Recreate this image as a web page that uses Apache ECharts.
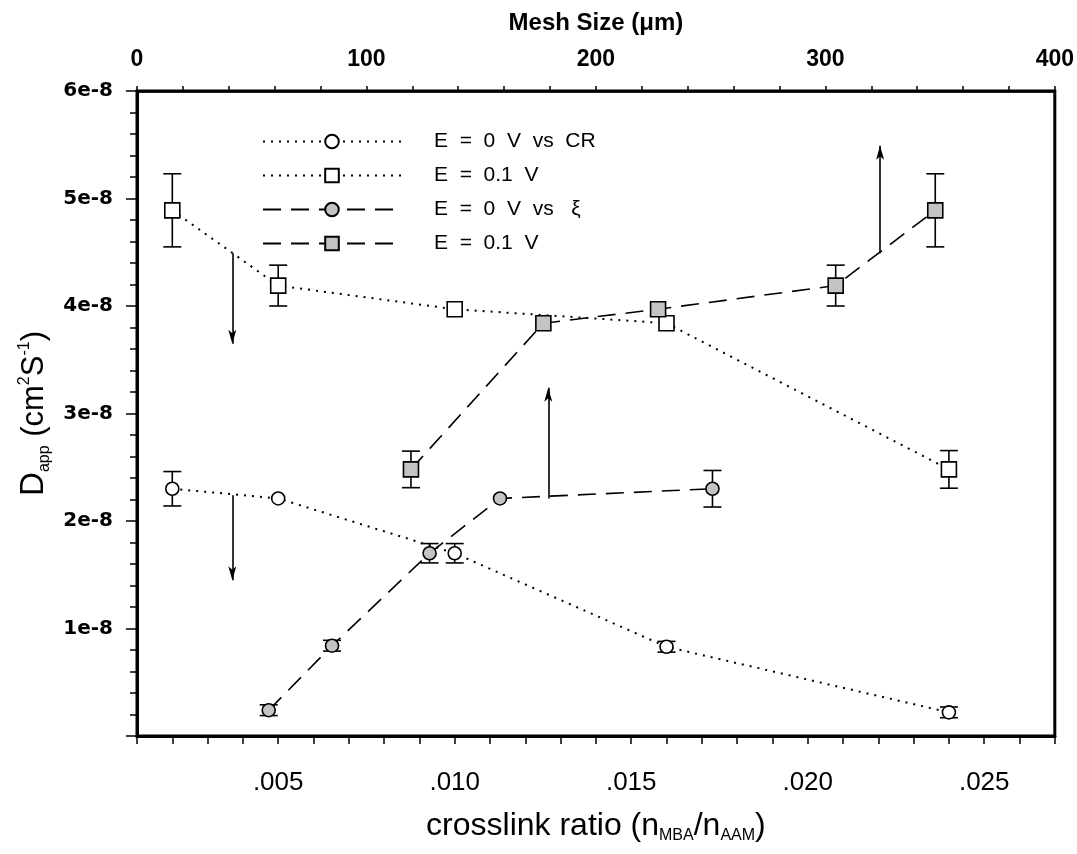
<!DOCTYPE html>
<html>
<head>
<meta charset="utf-8">
<script src="https://cdn.jsdelivr.net/npm/echarts@6/dist/echarts.min.js"></script>
<style>
html,body{margin:0;padding:0;background:#fff;}
#chart{width:1077px;height:854px;}
</style>
</head>
<body>
<div id="chart"></div>
<script>
// ---- data (D_app values in units of 1e-8 cm^2 s^-1) ----
const crosslinkRatio = [0.002, 0.005, 0.010, 0.016, 0.024];
const dApp0V_CR  = [2.30, 2.21, 1.70, 0.83, 0.22];
const err0V_CR   = [0.16, 0, 0.09, 0.05, 0.05];
const dApp01V_CR = [4.89, 4.19, 3.97, 3.84, 2.48];
const err01V_CR  = [0.34, 0.19, 0, 0, 0.175];

const meshSize0V  = [57.4, 85.0, 127.5, 158.2, 250.8];
const dApp0V_xi   = [0.24, 0.84, 1.70, 2.21, 2.30];
const err0V_xi    = [0.05, 0.05, 0.09, 0, 0.17];
const meshSize01V = [119.4, 177.1, 227.1, 304.5, 347.9];
const dApp01V_xi  = [2.48, 3.84, 3.97, 4.19, 4.89];
const err01V_xi   = [0.17, 0, 0, 0.19, 0.34];

// annotation arrows: [crosslink ratio, from D_app, to D_app]
const arrows = [
  [0.0037, 4.49, 3.65],
  [0.0037, 2.24, 1.45],
  [0.01265, 2.21, 3.24],
  [0.02205, 4.49, 5.49]
];

const bottomTickValues = [0.005, 0.010, 0.015, 0.020, 0.025];
const bottomTickLabels = ['.005', '.010', '.015', '.020', '.025'];
const topTickValues = [0, 100, 200, 300, 400];
const yTickValues = [1, 2, 3, 4, 5, 6];
const yTickLabels = ['1e-8', '2e-8', '3e-8', '4e-8', '5e-8', '6e-8'];

const seriesNames = ['E0CR', 'E01CR', 'E0XI', 'E01XI'];
const legendLabels = ['E  =  0  V  vs  CR', 'E  =  0.1  V', 'E  =  0  V  vs   \u03BE', 'E  =  0.1  V'];

// ---- helpers ----
function zip(xs, ys) { return xs.map((x, i) => [x, ys[i]]); }
function zip3(xs, ys, es) { return xs.map((x, i) => [x, ys[i], es[i]]).filter(d => d[2] > 0); }
function lookup(vals, labels, v) {
  for (let i = 0; i < vals.length; i++) if (Math.abs(vals[i] - v) < 1e-9) return labels[i];
  return '';
}

const SANS = "'Liberation Sans', Arial, sans-serif";

function errorBarSeries(xAxisIndex, data) {
  return {
    type: 'custom',
    xAxisIndex: xAxisIndex,
    yAxisIndex: 0,
    z: 1,
    silent: true,
    data: data,
    encode: { x: 0, y: 1 },
    renderItem: function (params, api) {
      const x = api.value(0), y = api.value(1), e = api.value(2);
      const t = api.coord([x, y + e]);
      const b = api.coord([x, y - e]);
      const w = 9;
      const st = { stroke: '#000', lineWidth: 1.6 };
      return {
        type: 'group',
        children: [
          { type: 'line', shape: { x1: t[0], y1: t[1], x2: b[0], y2: b[1] }, style: st },
          { type: 'line', shape: { x1: t[0] - w, y1: t[1], x2: t[0] + w, y2: t[1] }, style: st },
          { type: 'line', shape: { x1: b[0] - w, y1: b[1], x2: b[0] + w, y2: b[1] }, style: st }
        ]
      };
    }
  };
}

const dotted = { color: '#000', width: 2, type: [2, 6] };
const dashed = { color: '#000', width: 1.6, type: [18, 10] };
const openMarker = { color: '#fff', borderColor: '#000', borderWidth: 1.6 };
const greyMarker = { color: '#c4c4c4', borderColor: '#000', borderWidth: 1.6 };

const chart = echarts.init(document.getElementById('chart'), null, { renderer: 'canvas' });

const option = {
  animation: false,
  backgroundColor: '#fff',
  grid: {
    left: 137, right: 22, top: 91, bottom: 118,
    show: true, borderColor: '#000', borderWidth: 3, backgroundColor: 'transparent'
  },
  legend: {
    orient: 'vertical',
    left: 262, top: 131, padding: 0,
    itemWidth: 138, itemHeight: 17, itemGap: 13,
    selectedMode: false,
    data: seriesNames,
    formatter: function (name) { return legendLabels[seriesNames.indexOf(name)]; },
    textStyle: { fontFamily: SANS, fontSize: 21, color: '#000', padding: [0, 0, 0, 28] }
  },
  xAxis: [
    {
      type: 'value', position: 'bottom',
      min: 0.001, max: 0.027, interval: 0.001,
      name: '{t|crosslink ratio (n}{s|MBA}{t|/n}{s|AAM}{t|)}',
      nameLocation: 'middle', nameGap: 72,
      nameTextStyle: {
        rich: {
          t: { fontFamily: SANS, fontSize: 32, color: '#000' },
          s: { fontFamily: SANS, fontSize: 16, color: '#000', padding: [20, 0, 0, 0] }
        }
      },
      axisLine: { show: true, onZero: false, lineStyle: { color: '#000', width: 3 } },
      axisTick: { show: true, inside: false, length: 8, lineStyle: { color: '#000', width: 1.5 } },
      axisLabel: {
        margin: 34, color: '#000', fontFamily: SANS, fontSize: 26,
        formatter: function (v) { return lookup(bottomTickValues, bottomTickLabels, v); }
      },
      splitLine: { show: false }
    },
    {
      type: 'value', position: 'top',
      min: 0, max: 400, interval: 20,
      name: 'Mesh Size (\u03BCm)',
      nameLocation: 'middle', nameGap: 56,
      nameTextStyle: { fontFamily: SANS, fontWeight: 'bold', fontSize: 24, color: '#000' },
      axisLine: { show: true, onZero: false, lineStyle: { color: '#000', width: 2.5 } },
      axisTick: { show: true, inside: false, length: 5, lineStyle: { color: '#000', width: 1.5 } },
      axisLabel: {
        margin: 20, color: '#000', fontFamily: SANS, fontWeight: 'bold', fontSize: 23,
        formatter: function (v) { return topTickValues.indexOf(Math.round(v)) >= 0 && Math.abs(v - Math.round(v)) < 1e-6 ? String(Math.round(v)) : ''; }
      },
      splitLine: { show: false }
    }
  ],
  yAxis: [
    {
      type: 'value', position: 'left',
      min: 0, max: 6, interval: 1,
      name: '{d|D}{s|app}{t| (cm}{p|2}{t|S}{p|-1}{t|)}',
      nameLocation: 'middle', nameGap: 66, nameRotate: 90,
      nameTextStyle: {
        rich: {
          d: { fontFamily: SANS, fontSize: 33, color: '#000' },
          t: { fontFamily: SANS, fontSize: 31, color: '#000' },
          s: { fontFamily: SANS, fontSize: 16, color: '#000', padding: [20, 0, 0, 0] },
          p: { fontFamily: SANS, fontSize: 16, color: '#000', padding: [0, 0, 20, 0] }
        }
      },
      axisLine: { show: true, onZero: false, lineStyle: { color: '#000', width: 3 } },
      axisTick: { show: true, inside: false, length: 11, lineStyle: { color: '#000', width: 1.5 } },
      axisLabel: {
        margin: 24, color: '#000', fontFamily: "'DejaVu Sans', sans-serif", fontWeight: 'bold', fontSize: 20,
        formatter: function (v) { return lookup(yTickValues, yTickLabels, v); }
      },
      splitLine: { show: false }
    },
    {
      type: 'value', position: 'left',
      min: 0, max: 6, interval: 0.2,
      axisLine: { show: false },
      axisTick: { show: true, inside: false, length: 7, lineStyle: { color: '#000', width: 1.5 } },
      axisLabel: { show: false },
      splitLine: { show: false }
    }
  ],
  series: [
    errorBarSeries(0, zip3(crosslinkRatio, dApp0V_CR, err0V_CR)),
    errorBarSeries(0, zip3(crosslinkRatio, dApp01V_CR, err01V_CR)),
    errorBarSeries(1, zip3(meshSize0V, dApp0V_xi, err0V_xi)),
    errorBarSeries(1, zip3(meshSize01V, dApp01V_xi, err01V_xi)),
    {
      name: seriesNames[0], type: 'line', xAxisIndex: 0, yAxisIndex: 0, z: 3,
      data: zip(crosslinkRatio, dApp0V_CR),
      symbol: 'circle', symbolSize: 13, showAllSymbol: true,
      lineStyle: dotted, itemStyle: openMarker,
      emphasis: { disabled: true },
      markLine: {
        silent: true, symbol: ['none', 'arrow'], symbolSize: [6, 14],
        label: { show: false },
        lineStyle: { color: '#000', width: 1.6, type: 'solid' },
        emphasis: { disabled: true },
        data: arrows.map(a => [{ coord: [a[0], a[1]] }, { coord: [a[0], a[2]] }])
      }
    },
    {
      name: seriesNames[1], type: 'line', xAxisIndex: 0, yAxisIndex: 0, z: 3,
      data: zip(crosslinkRatio, dApp01V_CR),
      symbol: 'rect', symbolSize: 15, showAllSymbol: true,
      lineStyle: dotted, itemStyle: openMarker,
      emphasis: { disabled: true }
    },
    {
      name: seriesNames[2], type: 'line', xAxisIndex: 1, yAxisIndex: 0, z: 3,
      data: zip(meshSize0V, dApp0V_xi),
      symbol: 'circle', symbolSize: 13, showAllSymbol: true,
      lineStyle: dashed, itemStyle: greyMarker,
      emphasis: { disabled: true }
    },
    {
      name: seriesNames[3], type: 'line', xAxisIndex: 1, yAxisIndex: 0, z: 3,
      data: zip(meshSize01V, dApp01V_xi),
      symbol: 'rect', symbolSize: 15, showAllSymbol: true,
      lineStyle: dashed, itemStyle: greyMarker,
      emphasis: { disabled: true }
    }
  ]
};

chart.setOption(option);
</script>
</body>
</html>
